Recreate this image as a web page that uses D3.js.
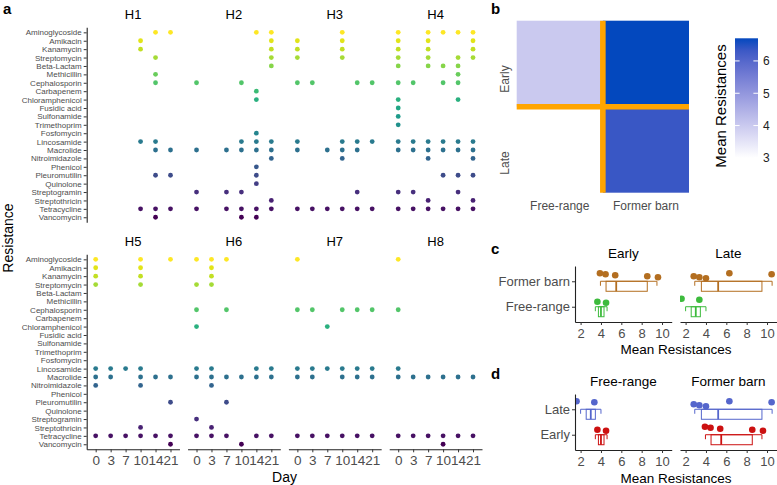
<!DOCTYPE html>
<html>
<head>
<meta charset="utf-8">
<script src="https://cdn.jsdelivr.net/npm/d3@7"></script>
<style>
body { margin: 0; background: #fff; }
svg { font-family: "Liberation Sans", Arial, Helvetica, sans-serif; }
</style>
</head>
<body>
<svg id="fig" width="777" height="485"></svg>
<script>
// ---- data ----
var classes = ["Aminoglycoside", "Amikacin", "Kanamycin", "Streptomycin", "Beta-Lactam", "Methicillin",
	"Cephalosporin", "Carbapenem", "Chloramphenicol", "Fusidic acid", "Sulfonamide", "Trimethoprim",
	"Fosfomycin", "Lincosamide", "Macrolide", "Nitroimidazole", "Phenicol", "Pleuromutilin", "Quinolone",
	"Streptogramin", "Streptothricin", "Tetracycline", "Vancomycin"];
var days = ["0", "3", "7", "10", "14", "21"];
var herds = ["H1", "H2", "H3", "H4", "H5", "H6", "H7", "H8"];

// resistance class -> days on which it was found
var h1 = [["Aminoglycoside", [14, 21]], ["Amikacin", [10]], ["Kanamycin", [10]], ["Streptomycin", [14]],
	["Methicillin", [14]], ["Cephalosporin", [14]], ["Lincosamide", [10, 14]], ["Macrolide", [14, 21]],
	["Pleuromutilin", [14, 21]], ["Tetracycline", [10, 14, 21]], ["Vancomycin", [14]]];
var h2 = [["Aminoglycoside", [14, 21]], ["Amikacin", [21]], ["Kanamycin", [21]], ["Streptomycin", [21]],
	["Beta-Lactam", [21]], ["Cephalosporin", [0, 10]], ["Carbapenem", [14]], ["Chloramphenicol", [14]],
	["Fosfomycin", [14]], ["Lincosamide", [10, 14, 21]], ["Macrolide", [0, 7, 10, 14, 21]],
	["Nitroimidazole", [21]], ["Phenicol", [14]], ["Pleuromutilin", [14]], ["Quinolone", [14]],
	["Streptogramin", [0, 7, 10]], ["Streptothricin", [21]], ["Tetracycline", [0, 7, 10, 14, 21]],
	["Vancomycin", [10, 14]]];
var h3 = [["Aminoglycoside", [10]], ["Amikacin", [0, 10]], ["Kanamycin", [0, 10]], ["Streptomycin", [0, 10]],
	["Cephalosporin", [0, 3, 14, 21]], ["Lincosamide", [0, 10, 14, 21]], ["Macrolide", [0, 7, 10, 14]],
	["Nitroimidazole", [10]], ["Streptogramin", [14]], ["Tetracycline", [0, 3, 7, 10, 14, 21]]];
var h4 = [["Aminoglycoside", [0, 7, 10, 14, 21]], ["Amikacin", [0, 7, 21]], ["Kanamycin", [0, 7, 21]],
	["Streptomycin", [0, 7, 14, 21]], ["Beta-Lactam", [0, 7, 10, 14]], ["Methicillin", [14]],
	["Cephalosporin", [0, 3, 10, 14]], ["Chloramphenicol", [0, 14]], ["Fusidic acid", [0]],
	["Sulfonamide", [0]], ["Trimethoprim", [0]], ["Lincosamide", [0, 3, 7, 10, 14, 21]],
	["Macrolide", [0, 3, 7, 10, 14, 21]], ["Nitroimidazole", [7, 21]], ["Pleuromutilin", [10, 14, 21]],
	["Streptogramin", [0, 3, 14]], ["Streptothricin", [7, 21]], ["Tetracycline", [0, 3, 7, 10, 14, 21]]];
var h5 = [["Aminoglycoside", [0, 10, 21]], ["Amikacin", [0, 10]], ["Kanamycin", [0, 10]],
	["Streptomycin", [0, 10]], ["Lincosamide", [0, 3, 7, 10]], ["Macrolide", [0, 3, 10, 14, 21]],
	["Nitroimidazole", [0, 10]], ["Pleuromutilin", [21]], ["Streptothricin", [10]],
	["Tetracycline", [0, 3, 7, 10, 14, 21]], ["Vancomycin", [21]]];
var h6 = [["Aminoglycoside", [0, 3, 7]], ["Amikacin", [3]], ["Kanamycin", [3]], ["Streptomycin", [0, 3]],
	["Cephalosporin", [0, 7]], ["Chloramphenicol", [0]], ["Lincosamide", [0, 3, 14, 21]],
	["Macrolide", [0, 3, 7, 10, 14, 21]], ["Nitroimidazole", [3]], ["Pleuromutilin", [7]],
	["Streptogramin", [0]], ["Streptothricin", [3]], ["Tetracycline", [0, 3, 7, 14, 21]], ["Vancomycin", [10]]];
var h7 = [["Aminoglycoside", [0]], ["Cephalosporin", [0, 3, 10, 14, 21]], ["Chloramphenicol", [7]],
	["Lincosamide", [0, 3, 7, 10, 14, 21]], ["Macrolide", [0, 3, 10, 14, 21]],
	["Tetracycline", [0, 3, 7, 10, 14, 21]]];
var h8 = [["Aminoglycoside", [0]], ["Cephalosporin", [0]], ["Lincosamide", [0]],
	["Macrolide", [0, 3, 7, 10, 14, 21]], ["Tetracycline", [0, 3, 7, 10, 14, 21]], ["Vancomycin", [10]]];
var herdHits = [h1, h2, h3, h4, h5, h6, h7, h8];

var facilities = ["Free-range", "Former barn"];
var periods = ["Early", "Late"];
// mean resistances (Early, Late)
var heatFreeRange = [4.0, 3.0];
var heatFormerBarn = [6.7, 6.35];
var heatTicks = [3, 4, 5, 6];

// mean resistances per sample group
var ptsBarnEarly = [3.9, 4.45, 5.4, 8.55, 9.6];
var ptsFreeEarly = [3.65, 4.5];
var ptsBarnLate = [2.8, 3.35, 4.0, 6.3, 10.45];
var ptsFreeLate = [1.6, 3.35];
// box stats: min, q1, median, q3, max
var boxBarnEarly = [3.95, 4.5, 5.5, 8.55, 9.5];
var boxFreeEarly = [3.45, 3.75, 4.0, 4.3, 4.6];
var boxBarnLate = [2.9, 3.55, 5.2, 9.5, 10.5];
var boxFreeLate = [2.0, 2.55, 3.0, 3.45, 4.0];
var meanTicks = [2, 4, 6, 8, 10];

var svg = d3.select("#fig");
var axisCol = "#333";
var labCol = "#4d4d4d";

function styleAxis(g, fontSize) {
	g.select(".domain").attr("stroke", "#222").attr("stroke-width", 1.1);
	g.selectAll(".tick line").attr("stroke", axisCol).attr("stroke-width", 1);
	g.selectAll(".tick text").attr("fill", labCol).attr("font-size", fontSize)
		.attr("font-family", "Liberation Sans, Arial, sans-serif");
}

function panelLetter(txt, x, y) {
	svg.append("text").attr("x", x).attr("y", y).attr("font-weight", "bold")
		.attr("font-size", 15).text(txt);
}

// ---- panel a ----
var gridX = d3.scaleBand().domain(d3.range(4)).range([86.7, 482]).paddingInner(0.08);
var rowTop = [27.3, 254.3], rowH = 195;
var xDay = d3.scalePoint().domain(days).range([0, gridX.bandwidth()]).padding(0.6);
var yCls = d3.scalePoint().domain(classes).range([0, rowH]).padding(0.6);
var clsColour = function (c) {
	return d3.interpolateViridis(1 - classes.indexOf(c) / (classes.length - 1));
};

herds.forEach(function (h, i) {
	var col = i % 4, row = Math.floor(i / 4);
	var g = svg.append("g").attr("transform", "translate(" + gridX(col) + "," + rowTop[row] + ")");

	g.append("text").attr("x", gridX.bandwidth() / 2).attr("y", -8)
		.attr("text-anchor", "middle").attr("font-size", 13).text(h);

	var pts = [];
	herdHits[i].forEach(function (hit) {
		hit[1].forEach(function (d) { pts.push({ cls: hit[0], day: String(d) }); });
	});
	g.selectAll("circle").data(pts).enter().append("circle")
		.attr("cx", function (d) { return xDay(d.day); })
		.attr("cy", function (d) { return yCls(d.cls); })
		.attr("r", 2.4)
		.attr("fill", function (d) { return clsColour(d.cls); });

	if (col == 0) {
		var ya = g.append("g").call(d3.axisLeft(yCls).tickSize(3).tickSizeOuter(0).tickPadding(2));
		styleAxis(ya, 8);
	}
	if (row == 1) {
		var xa = g.append("g").attr("transform", "translate(0," + rowH + ")")
			.call(d3.axisBottom(xDay).tickSize(3).tickSizeOuter(0).tickPadding(3));
		styleAxis(xa, 13.5);
	}
});

svg.append("text").attr("x", 284.5).attr("y", 482).attr("text-anchor", "middle")
	.attr("font-size", 14).text("Day");
svg.append("text").attr("transform", "translate(13,238) rotate(-90)").attr("text-anchor", "middle")
	.attr("font-size", 14).text("Resistance");
panelLetter("a", 3, 14);

// ---- panel b ----
var xB = d3.scaleBand().domain(facilities).range([516.7, 689]);
var yB = d3.scaleBand().domain(periods).range([20.7, 192.7]);
var heatFill = d3.scaleSequential(d3.interpolateLab("#ffffff", "#0348BE")).domain([3.0, 6.7]);
var heatCells = [];
periods.forEach(function (p, j) {
	heatCells.push({ fac: "Free-range", per: p, v: heatFreeRange[j] });
	heatCells.push({ fac: "Former barn", per: p, v: heatFormerBarn[j] });
});
svg.append("g").selectAll("rect").data(heatCells).enter().append("rect")
	.attr("x", function (d) { return xB(d.fac); })
	.attr("y", function (d) { return yB(d.per); })
	.attr("width", xB.bandwidth()).attr("height", yB.bandwidth())
	.attr("fill", function (d) { return heatFill(d.v); });
// orange dividers
svg.append("line").attr("x1", xB("Former barn")).attr("x2", xB("Former barn"))
	.attr("y1", 20.7).attr("y2", 192.7).attr("stroke", "#FFA500").attr("stroke-width", 5.6);
svg.append("line").attr("x1", 516.7).attr("x2", 689).attr("y1", yB("Late")).attr("y2", yB("Late"))
	.attr("stroke", "#FFA500").attr("stroke-width", 5.6);

facilities.forEach(function (f) {
	svg.append("text").attr("x", xB(f) + xB.bandwidth() / 2).attr("y", 209.5)
		.attr("text-anchor", "middle").attr("font-size", 12).attr("fill", labCol).text(f);
});
svg.append("text").attr("transform", "translate(509,79) rotate(-90)").attr("text-anchor", "middle")
	.attr("font-size", 12).attr("fill", labCol).text("Early");
svg.append("text").attr("transform", "translate(509,163) rotate(-90)").attr("text-anchor", "middle")
	.attr("font-size", 12).attr("fill", labCol).text("Late");

// colour bar
var barY = d3.scaleLinear().domain([3.0, 6.7]).range([157.9, 38.3]);
var grad = svg.append("defs").append("linearGradient").attr("id", "heatgrad")
	.attr("x1", 0).attr("x2", 0).attr("y1", 1).attr("y2", 0);
d3.range(0, 1.0001, 0.1).forEach(function (t) {
	grad.append("stop").attr("offset", t).attr("stop-color", heatFill(3.0 + t * 3.7));
});
svg.append("rect").attr("x", 735).attr("y", barY(6.7)).attr("width", 23)
	.attr("height", barY(3.0) - barY(6.7)).attr("fill", "url(#heatgrad)");
heatTicks.forEach(function (t) {
	svg.append("line").attr("x1", 735).attr("x2", 739.6).attr("y1", barY(t)).attr("y2", barY(t))
		.attr("stroke", "#fff").attr("stroke-width", 1);
	svg.append("line").attr("x1", 753.4).attr("x2", 758).attr("y1", barY(t)).attr("y2", barY(t))
		.attr("stroke", "#fff").attr("stroke-width", 1);
	svg.append("text").attr("x", 763).attr("y", barY(t)).attr("dy", "0.36em")
		.attr("font-size", 12).attr("fill", "#222").text(t);
});
svg.append("text").attr("transform", "translate(726,106) rotate(-90)").attr("text-anchor", "middle")
	.attr("font-size", 15).text("Mean Resistances");
panelLetter("b", 491, 14);

// ---- panels c and d ----
var xM = d3.scaleLinear().domain([1.45, 10.95]).range([0, 96.7]);
var facetLeft = [575, 680];
var brown = "#B36E20", green = "#3DBB3D", blue = "#5566CC", red = "#CC1111";

function facetPanel(left, top, title, cats, rows, showY) {
	var h = 56;
	var yCat = d3.scalePoint().domain(cats).range([h, 0]).padding(0.6);
	var g = svg.append("g").attr("transform", "translate(" + left + "," + top + ")");
	var cid = "clip" + left + "_" + top;
	g.append("clipPath").attr("id", cid).append("rect")
		.attr("x", 0).attr("y", -20).attr("width", 96.7).attr("height", h + 20);

	g.append("text").attr("x", 96.7 / 2).attr("y", -8).attr("text-anchor", "middle")
		.attr("font-size", 13.5).text(title);

	rows.forEach(function (r, k) {
		var y0 = yCat(r.cat);
		var s = r.box;
		var bg = g.append("g").attr("stroke", r.colour).attr("fill", "none").attr("stroke-width", 1);
		bg.append("line").attr("x1", xM(s[0])).attr("x2", xM(s[4])).attr("y1", y0).attr("y2", y0);
		bg.append("line").attr("x1", xM(s[0])).attr("x2", xM(s[0])).attr("y1", y0).attr("y2", y0 + 4.5);
		bg.append("line").attr("x1", xM(s[4])).attr("x2", xM(s[4])).attr("y1", y0).attr("y2", y0 + 4.5);
		bg.append("rect").attr("x", xM(s[1])).attr("y", y0).attr("width", xM(s[3]) - xM(s[1]))
			.attr("height", 10);
		bg.append("line").attr("x1", xM(s[2])).attr("x2", xM(s[2])).attr("y1", y0).attr("y2", y0 + 10)
			.attr("stroke-width", 1.8);

		g.append("g").attr("clip-path", "url(#" + cid + ")").selectAll("circle").data(r.pts).enter()
			.append("circle")
			.attr("cx", function (d) { return xM(d); })
			.attr("cy", function (d, i) { return y0 - 3 - ((i * 5 + k * 3 + left) % 6); })
			.attr("r", 3.3).attr("fill", r.colour);
	});

	var xa = g.append("g").attr("transform", "translate(0," + h + ")")
		.call(d3.axisBottom(xM).tickValues(meanTicks).tickSize(3).tickSizeOuter(0).tickPadding(4));
	styleAxis(xa, 13);
	if (showY) {
		var ya = g.append("g").call(d3.axisLeft(yCat).tickSize(3).tickSizeOuter(0).tickPadding(2));
		styleAxis(ya, 13);
	}
}

facetPanel(facetLeft[0], 266, "Early", facilities, [
	{ cat: "Former barn", pts: ptsBarnEarly, box: boxBarnEarly, colour: brown },
	{ cat: "Free-range", pts: ptsFreeEarly, box: boxFreeEarly, colour: green }], true);
facetPanel(facetLeft[1], 266, "Late", facilities, [
	{ cat: "Former barn", pts: ptsBarnLate, box: boxBarnLate, colour: brown },
	{ cat: "Free-range", pts: ptsFreeLate, box: boxFreeLate, colour: green }], false);
facetPanel(facetLeft[0], 394, "Free-range", periods, [
	{ cat: "Late", pts: ptsFreeLate, box: boxFreeLate, colour: blue },
	{ cat: "Early", pts: ptsFreeEarly, box: boxFreeEarly, colour: red }], true);
facetPanel(facetLeft[1], 394, "Former barn", periods, [
	{ cat: "Late", pts: ptsBarnLate, box: boxBarnLate, colour: blue },
	{ cat: "Early", pts: ptsBarnEarly, box: boxBarnEarly, colour: red }], false);

svg.append("text").attr("x", 676).attr("y", 354).attr("text-anchor", "middle")
	.attr("font-size", 13.5).text("Mean Resistances");
svg.append("text").attr("x", 676).attr("y", 483).attr("text-anchor", "middle")
	.attr("font-size", 13.5).text("Mean Resistances");
panelLetter("c", 491, 254);
panelLetter("d", 491, 379);
</script>
</body>
</html>
